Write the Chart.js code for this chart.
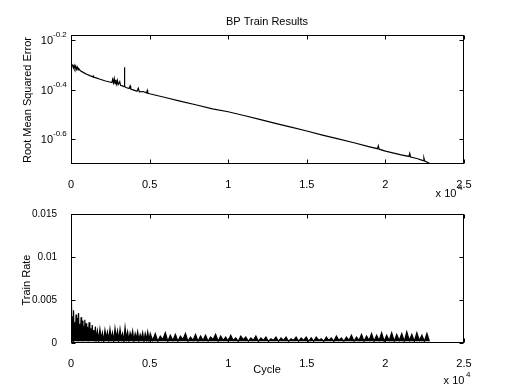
<!DOCTYPE html>
<html lang="en">
<head>
    <meta charset="UTF-8">
    <title>BP Train Results</title>
    <script src="https://cdn.jsdelivr.net/npm/chart.js"></script>
    <style>
        body { margin: 0; background: #fff; }
        #wrap { position: relative; width: 506px; height: 384px; overflow: hidden; }
        canvas { position: absolute; left: 0; }
        #rmse-chart { top: 0; }
        #rate-chart { top: 192px; }
    </style>
</head>
<body>
<div id="wrap">
    <canvas id="rmse-chart" width="506" height="200"></canvas>
    <canvas id="rate-chart" width="506" height="192"></canvas>
</div>

<script>
    // x axis (cycles), shared by both plots
    const cycleTicks = [0, 5000, 10000, 15000, 20000, 25000];
    const cycleTickLabels = ['0', '0.5', '1', '1.5', '2', '2.5'];

    // top plot: root mean squared error (log axis)
    const rmseTickExps = [-0.6, -0.4, -0.2];
    const rmseTickLabels = ['-0.6', '-0.4', '-0.2'];
    const rmseCycle = [
        0, 100, 150, 200, 250, 300, 350, 400, 450, 500,
        600, 800, 1000, 1200, 1400, 1420, 1440, 1600, 1800, 2000,
        2200, 2400, 2600, 2650, 2700, 2750, 2800, 2850, 2900, 2950,
        3000, 3100, 3150, 3300, 3380, 3400, 3420, 3500, 3700, 3760,
        3800, 4000, 4200, 4280, 4350, 4600, 4800, 4850, 4880, 5000,
        6000, 7000, 8000, 9000, 10000, 11000, 12000, 13000, 14000, 15000,
        16000, 17000, 18000, 19000, 19500, 19550, 19600, 20000, 21000, 21500,
        21550, 21600, 22000, 22400, 22450, 22500, 22800
    ];
    const rmseValue = [
        0.493, 0.500, 0.487, 0.498, 0.484, 0.495, 0.481, 0.490, 0.478, 0.483,
        0.474, 0.466, 0.459, 0.453, 0.448, 0.455, 0.447, 0.444, 0.439, 0.435,
        0.431, 0.428, 0.425, 0.438, 0.424, 0.441, 0.421, 0.436, 0.419, 0.433,
        0.417, 0.428, 0.414, 0.411, 0.409, 0.490, 0.410, 0.406, 0.402, 0.412,
        0.400, 0.396, 0.392, 0.403, 0.390, 0.391, 0.386, 0.395, 0.385, 0.383,
        0.370, 0.357, 0.345, 0.333, 0.324, 0.313, 0.302, 0.291, 0.281, 0.271,
        0.261, 0.252, 0.243, 0.234, 0.230, 0.236, 0.229, 0.225, 0.217, 0.214,
        0.220, 0.213, 0.210, 0.206, 0.211, 0.205, 0.201
    ];

    // bottom plot: train rate
    const rateTicks = [0, 0.005, 0.01, 0.015];
    const rateTickLabels = ['0', '0.005', '0.01', '0.015'];
    const rateFloor = 0.0002; // lower edge of the dense band
    const rateCycle = [
        0, 20, 40, 70, 100, 130, 160, 200, 240, 280,
        320, 360, 400, 440, 480, 520, 560, 600, 640, 680,
        720, 760, 800, 840, 880, 920, 960, 1000, 1050, 1100,
        1150, 1200, 1250, 1300, 1350, 1400, 1450, 1500, 1550, 1600,
        1680, 1760, 1840, 1920, 2000, 2080, 2160, 2240, 2320, 2400,
        2480, 2560, 2640, 2720, 2800, 2880, 2960, 3040, 3120, 3200,
        3280, 3360, 3440, 3520, 3600, 3680, 3760, 3840, 3920, 4000,
        4080, 4160, 4240, 4320, 4400, 4480, 4560, 4640, 4720, 4800,
        4880, 4960, 5040,
        5200, 5360, 5520, 5680, 5840, 6000, 6160, 6320, 6480, 6640,
        6800, 6960, 7120, 7280, 7440, 7600, 7760, 7920, 8080, 8240,
        8400, 8560, 8720, 8880, 9040, 9200, 9360, 9520, 9680, 9840,
        10000, 10160, 10320, 10480, 10640, 10800, 10960, 11120, 11280, 11440,
        11600, 11760, 11920, 12080, 12240, 12400, 12560, 12720, 12880, 13040,
        13200, 13360, 13520, 13680, 13840, 14000, 14160, 14320, 14480, 14640,
        14800, 14960, 15120,
        15280, 15440, 15600, 15760, 15920, 16080, 16240, 16400, 16560, 16720,
        16880, 17040, 17200, 17360, 17520, 17680, 17840, 18000, 18160, 18320,
        18480, 18640, 18800, 18960, 19120, 19280, 19440, 19600, 19760, 19920,
        20080, 20240, 20400, 20560, 20720, 20880, 21040, 21200, 21360, 21520,
        21680, 21840, 22000, 22160, 22320, 22480, 22640, 22800
    ];
    const rateValue = [
        0.0050, 0.0003, 0.0046, 0.0005, 0.0031, 0.0002, 0.0038, 0.0006, 0.0024, 0.0003,
        0.0033, 0.0004, 0.0029, 0.0002, 0.0035, 0.0005, 0.0022, 0.0003, 0.0030, 0.0006,
        0.0026, 0.0002, 0.0020, 0.0005, 0.0027, 0.0003, 0.0023, 0.0006, 0.0019, 0.0002,
        0.0024, 0.0005, 0.0017, 0.0003, 0.0021, 0.0005, 0.0015, 0.0002, 0.0019, 0.0004,
        0.0014, 0.0003, 0.0016, 0.0005, 0.0012, 0.0002, 0.0015, 0.0006, 0.0013, 0.0003,
        0.0016, 0.0005, 0.0012, 0.0002, 0.0017, 0.0006, 0.0014, 0.0003, 0.0016, 0.0005,
        0.0011, 0.0002, 0.0018, 0.0005, 0.0013, 0.0003, 0.0012, 0.0006, 0.0014, 0.0002,
        0.0011, 0.0005, 0.0013, 0.0003, 0.0010, 0.0005, 0.0012, 0.0002, 0.0011, 0.0004,
        0.0013, 0.0003, 0.0011,
        0.0003, 0.0011, 0.0002, 0.0008, 0.0004, 0.0012, 0.0002, 0.0009, 0.0003, 0.0010,
        0.0002, 0.0008, 0.0004, 0.0011, 0.0002, 0.0007, 0.0003, 0.0010, 0.0002, 0.0008,
        0.0003, 0.0009, 0.0002, 0.0007, 0.0004, 0.0010, 0.0002, 0.0008, 0.0003, 0.0007,
        0.0002, 0.0009, 0.0003, 0.0006, 0.0002, 0.0008, 0.0004, 0.0007, 0.0002, 0.0006,
        0.0003, 0.0008, 0.0002, 0.0006, 0.0003, 0.0007, 0.0002, 0.0005, 0.0003, 0.0007,
        0.0002, 0.0006, 0.0003, 0.0007, 0.0002, 0.0005, 0.0003, 0.0007, 0.0002, 0.0006,
        0.0003, 0.0007, 0.0002,
        0.0006, 0.0002, 0.0007, 0.0003, 0.0005, 0.0002, 0.0007, 0.0003, 0.0006, 0.0002,
        0.0008, 0.0003, 0.0006, 0.0002, 0.0007, 0.0003, 0.0009, 0.0002, 0.0007, 0.0003,
        0.0010, 0.0002, 0.0008, 0.0003, 0.0011, 0.0002, 0.0009, 0.0003, 0.0012, 0.0002,
        0.0009, 0.0003, 0.0012, 0.0002, 0.0010, 0.0003, 0.0011, 0.0002, 0.0013, 0.0003,
        0.0010, 0.0002, 0.0012, 0.0003, 0.0009, 0.0002, 0.0011, 0.0002
    ];

    const FONT = '"Liberation Sans", Arial, sans-serif';

    function toPoints(xs, ys) {
        return xs.map((x, i) => ({ x: x, y: ys[i] }));
    }

    function drawText(ctx, t) {
        ctx.save();
        ctx.font = (t.size || 11) + 'px ' + FONT;
        ctx.fillStyle = '#000';
        ctx.textAlign = t.align || 'center';
        ctx.textBaseline = 'middle';
        ctx.translate(t.x, t.y);
        if (t.rotate) ctx.rotate(t.rotate);
        ctx.fillText(t.text, 0, 0);
        ctx.restore();
    }

    // box + inward ticks on all four sides, like a matlab axes
    const matlabBox = {
        id: 'matlabBox',
        afterDraw(chart, args, opts) {
            const ctx = chart.ctx;
            const a = chart.chartArea;
            const xs = chart.scales.x, ys = chart.scales.y;
            const L = Math.round(a.left) + 0.5, R = Math.round(a.right) - 0.5;
            const T = Math.round(a.top) + 0.5, B = Math.round(a.bottom) - 0.5;
            ctx.save();
            ctx.strokeStyle = '#000';
            ctx.lineWidth = 1;
            ctx.strokeRect(L, T, R - L, B - T);
            ctx.beginPath();
            xs.ticks.forEach(t => {
                const px = Math.round(xs.getPixelForValue(t.value)) + 0.5;
                ctx.moveTo(px, B); ctx.lineTo(px, B - 4);
                ctx.moveTo(px, T); ctx.lineTo(px, T + 4);
            });
            ys.ticks.forEach(t => {
                const py = Math.round(ys.getPixelForValue(t.value)) + 0.5;
                ctx.moveTo(L, py); ctx.lineTo(L + 4, py);
                ctx.moveTo(R, py); ctx.lineTo(R - 4, py);
            });
            ctx.stroke();
            ctx.restore();

            // log tick labels: 10 with a raised exponent
            if (opts.logLabels) {
                ys.ticks.forEach((t, i) => {
                    const py = ys.getPixelForValue(t.value);
                    drawText(ctx, { text: '10', x: 53, y: py + 1, align: 'right', size: 11 });
                    drawText(ctx, { text: rmseTickLabels[i], x: 53, y: py - 5, align: 'left', size: 8 });
                });
            }
            (opts.texts || []).forEach(t => drawText(ctx, t));
        }
    };

    function xScale(height) {
        return {
            type: 'linear',
            min: 0,
            max: 25000,
            afterBuildTicks: s => { s.ticks = cycleTicks.map(v => ({ value: v })); },
            afterFit: s => { s.height = height; },
            grid: { display: false },
            border: { display: false },
            ticks: {
                color: '#000',
                font: { family: FONT, size: 11 },
                padding: 6,
                maxRotation: 0,
                callback: (v, i) => cycleTickLabels[i]
            }
        };
    }

    new Chart(document.getElementById('rmse-chart'), {
        type: 'line',
        data: {
            datasets: [{
                data: toPoints(rmseCycle, rmseValue),
                borderColor: '#000',
                borderWidth: 1.2,
                pointRadius: 0,
                tension: 0
            }]
        },
        options: {
            responsive: false,
            animation: false,
            devicePixelRatio: 1,
            layout: { padding: { top: 35, right: 42, bottom: 8, left: 0 } },
            plugins: {
                legend: { display: false },
                tooltip: { enabled: false },
                matlabBox: {
                    logLabels: true,
                    texts: [
                        { text: 'BP Train Results', x: 267, y: 22, size: 11 },
                        { text: 'Root Mean Squared Error', x: 28, y: 100, size: 11, rotate: -Math.PI / 2 },
                        { text: 'x 10', x: 446, y: 194, size: 11 },
                        { text: '4', x: 458, y: 188, size: 8, align: 'left' }
                    ]
                }
            },
            scales: {
                x: xScale(28),
                y: {
                    type: 'logarithmic',
                    min: Math.pow(10, -0.7),
                    max: Math.pow(10, -0.18),
                    afterBuildTicks: s => { s.ticks = rmseTickExps.map(e => ({ value: Math.pow(10, e) })); },
                    afterFit: s => { s.width = 71; },
                    grid: { display: false },
                    border: { display: false },
                    ticks: { display: false }
                }
            }
        },
        plugins: [matlabBox]
    });

    new Chart(document.getElementById('rate-chart'), {
        type: 'line',
        data: {
            datasets: [{
                data: toPoints(rateCycle, rateValue),
                borderColor: '#000',
                backgroundColor: '#000',
                borderWidth: 1.2,
                pointRadius: 0,
                tension: 0,
                fill: { value: rateFloor }
            }]
        },
        options: {
            responsive: false,
            animation: false,
            devicePixelRatio: 1,
            layout: { padding: { top: 22, right: 42, bottom: 0, left: 0 } },
            plugins: {
                legend: { display: false },
                tooltip: { enabled: false },
                filler: { propagate: false },
                matlabBox: {
                    texts: [
                        { text: 'Train Rate', x: 27, y: 88, size: 11, rotate: -Math.PI / 2 },
                        { text: 'Cycle', x: 267, y: 178, size: 11 },
                        { text: 'x 10', x: 454, y: 189, size: 11 },
                        { text: '4', x: 466, y: 183, size: 8, align: 'left' }
                    ]
                }
            },
            scales: {
                x: xScale(41),
                y: {
                    type: 'linear',
                    min: 0,
                    max: 0.015,
                    afterBuildTicks: s => { s.ticks = rateTicks.map(v => ({ value: v })); },
                    afterFit: s => { s.width = 71; },
                    grid: { display: false },
                    border: { display: false },
                    ticks: {
                        color: '#000',
                        font: { family: FONT, size: 10 },
                        padding: 6,
                        callback: (v, i) => rateTickLabels[i]
                    }
                }
            }
        },
        plugins: [matlabBox]
    });
</script>
</body>
</html>
